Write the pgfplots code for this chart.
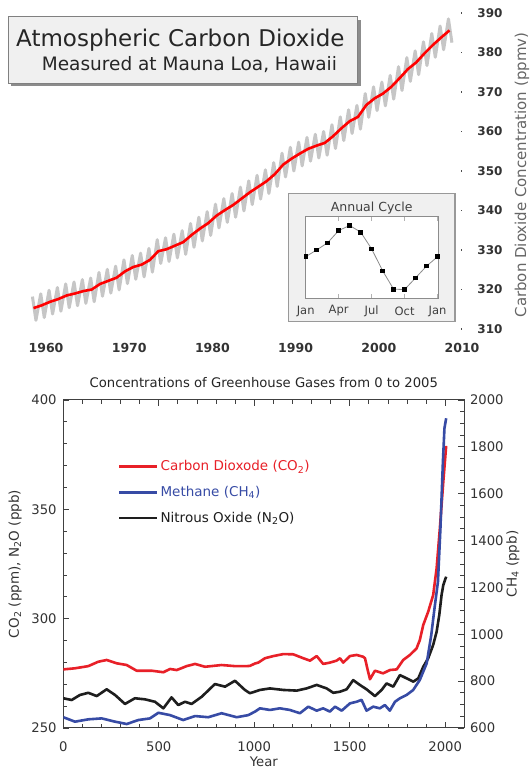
\documentclass[border=0pt]{standalone}
\usepackage{fontspec}
\setmainfont{DejaVu Sans}
\usepackage{pgfplots}
\usepackage{pgfplotstable}
\pgfplotsset{compat=1.18}
\definecolor{co2red}{RGB}{232,32,40}
\definecolor{ch4blue}{RGB}{55,75,165}
\definecolor{n2oblack}{RGB}{30,30,30}
\definecolor{boxgray}{RGB}{240,240,240}

\pgfplotstableread{
x y
1958.37 318.2
1958.79 312.2
1959.37 318.9
1959.79 312.9
1960.37 319.8
1960.79 313.8
1961.37 320.5
1961.79 314.5
1962.37 321.4
1962.79 315.4
1963.37 321.9
1963.79 315.9
1964.37 322.5
1964.79 316.5
1965.37 322.9
1965.79 316.9
1966.37 324.3
1966.79 318.3
1967.37 325.1
1967.79 319.1
1968.37 325.9
1968.79 319.9
1969.37 327.5
1969.79 321.5
1970.37 328.6
1970.79 322.6
1971.37 329.2
1971.79 323.2
1972.37 330.4
1972.79 324.4
1973.37 332.6
1973.79 326.6
1974.37 333.1
1974.79 327.1
1975.37 334.0
1975.79 328.0
1976.37 334.9
1976.79 328.9
1977.37 336.7
1977.79 330.7
1978.37 338.3
1978.79 332.3
1979.37 339.7
1979.79 333.7
1980.37 341.6
1980.79 335.6
1981.37 343.0
1981.79 337.0
1982.37 344.3
1982.79 338.3
1983.37 345.9
1983.79 339.9
1984.37 347.5
1984.79 341.5
1985.37 348.9
1985.79 342.9
1986.37 350.3
1986.79 344.3
1987.37 352.1
1987.79 346.1
1988.37 354.5
1988.79 348.5
1989.37 356.0
1989.79 350.0
1990.37 357.3
1990.79 351.3
1991.37 358.5
1991.79 352.5
1992.37 359.3
1992.79 353.3
1993.37 360.0
1993.79 354.0
1994.37 361.7
1994.79 355.7
1995.37 363.7
1995.79 357.7
1996.37 365.5
1996.79 359.5
1997.37 366.6
1997.79 360.6
1998.37 369.6
1998.79 363.6
1999.37 371.3
1999.79 365.3
2000.37 372.5
2000.79 366.5
2001.37 374.2
2001.79 368.2
2002.37 376.4
2002.79 370.4
2003.37 378.7
2003.79 372.7
2004.37 380.4
2004.79 374.4
2005.37 382.7
2005.79 376.7
2006.37 384.8
2006.79 378.8
2007.37 386.7
2007.79 380.7
2008.37 388.5
2008.79 382.5
}\monthly

\pgfplotstableread{
x y
1958.5 315.3
1959.5 316.0
1960.5 316.9
1961.5 317.6
1962.5 318.5
1963.5 319.0
1964.5 319.6
1965.5 320.0
1966.5 321.4
1967.5 322.2
1968.5 323.0
1969.5 324.6
1970.5 325.7
1971.5 326.3
1972.5 327.5
1973.5 329.7
1974.5 330.2
1975.5 331.1
1976.5 332.0
1977.5 333.8
1978.5 335.4
1979.5 336.8
1980.5 338.7
1981.5 340.1
1982.5 341.4
1983.5 343.0
1984.5 344.6
1985.5 346.0
1986.5 347.4
1987.5 349.2
1988.5 351.6
1989.5 353.1
1990.5 354.4
1991.5 355.6
1992.5 356.4
1993.5 357.1
1994.5 358.8
1995.5 360.8
1996.5 362.6
1997.5 363.7
1998.5 366.7
1999.5 368.4
2000.5 369.6
2001.5 371.3
2002.5 373.5
2003.5 375.8
2004.5 377.5
2005.5 379.8
2006.5 381.9
2007.5 383.8
2008.5 385.6
}\annual

\pgfplotstableread{
x y
0 276.8
61 277.3
131 278.3
183 280.3
227 281.1
279 279.6
332 278.8
384 276.2
463 276.2
524 275.5
559 277.0
594 276.5
646 278.3
690 279.3
742 278.0
829 278.8
899 278.3
960 278.3
977 278.4
1004 279.5
1021 279.9
1056 281.9
1100 282.9
1152 283.8
1204 283.7
1257 281.9
1292 280.8
1327 282.9
1361 279.3
1396 279.9
1431 280.8
1449 281.9
1466 279.9
1501 282.9
1536 283.4
1570 282.6
1580 281.9
1592 277.3
1606 272.3
1632 276.2
1675 275.0
1710 276.5
1746 276.8
1780 281.1
1815 283.4
1850 286.4
1867 290.2
1885 297.1
1911 303.2
1937 310.8
1955 323.0
1972 341.3
1990 362.6
2005 379.0
}\cotwo

\pgfplotstableread{
x y
0 263.6
44 262.8
87 265.1
131 266.1
175 264.6
227 267.7
271 265.1
323 261.0
375 263.6
428 263.1
480 262.0
524 259.0
567 264.0
602 260.5
637 262.0
672 261.0
725 264.3
794 270.1
847 268.9
899 271.6
951 267.4
977 265.9
1030 267.4
1082 268.1
1152 267.4
1222 267.1
1274 268.1
1327 269.7
1379 268.1
1414 266.1
1449 266.6
1484 267.7
1518 271.9
1553 269.7
1588 267.7
1632 264.6
1667 267.4
1693 270.4
1728 268.9
1763 274.2
1798 272.7
1833 271.2
1859 272.7
1885 278.0
1911 281.9
1937 288.0
1955 294.0
1969 301.7
1981 310.8
1990 315.4
2005 319.2
}\ntwoo

\pgfplotstableread{
x y
0 646
61 627
131 637
201 641
271 627
332 617
393 634
454 641
498 665
559 655
628 634
690 651
759 646
829 663
908 646
969 655
1004 670
1030 684
1082 677
1134 684
1187 677
1239 663
1283 691
1327 674
1361 684
1396 670
1423 691
1458 674
1501 705
1536 712
1562 720
1588 674
1623 691
1658 684
1684 698
1710 674
1737 712
1763 727
1798 741
1832 762
1867 805
1903 876
1927 997
1944 1111
1962 1224
1975 1452
1988 1737
1996 1879
2005 1922
}\chfour

\begin{document}
\begin{tikzpicture}[x=1pt,y=1pt]
\useasboundingbox (0,0) rectangle (531,769);
\fill[white] (0,0) rectangle (531,769);

% ---------------- top panel: Mauna Loa ----------------
\begin{axis}[
  at={(4.4pt,440pt)}, anchor=south west, scale only axis,
  width=457.6pt, height=316pt,
  xmin=1955, xmax=2010, ymin=310, ymax=390,
  axis line style={draw=none},
  xtick={1960,1970,...,2010},
  ytick={310,320,...,390},
  ytick pos=right, yticklabel pos=right,
  xtick pos=bottom,
  xtick style={draw=none},
  ytick style={line width=1.3pt, black!70},
  major tick length=1.3pt,
  /pgf/number format/1000 sep={},
  /pgf/number format/assume math mode=true,
  xticklabel style={anchor=center, yshift=-19pt, font=\fontsize{12.5}{14}\selectfont\bfseries, text=black!80},
  yticklabel style={anchor=center, xshift=28pt, font=\fontsize{12}{14}\selectfont\bfseries, text=black!80},
]
\addplot[gray!45, line width=3pt, line join=round] table[x=x,y=y] {\monthly};
\addplot[red, line width=2.6pt, line join=round] table[x=x,y=y] {\annual};
\end{axis}

% right label
\node[rotate=90, anchor=south, inner sep=0pt, font=\fontsize{15}{18}\selectfont, text=black!60] at (529.5,594) {Carbon Dioxide Concentration (ppmv)};

% title box
\fill[black!45] (11.3,682.7) rectangle (360.7,749.3);
\filldraw[fill=boxgray, draw=black!50, line width=1pt] (8.3,685.7) rectangle (357.7,752.3);
\node[anchor=base west, inner sep=0pt, font=\fontsize{23}{26}\selectfont, text=black!85] at (16,722.3) {Atmospheric Carbon Dioxide};
\node[anchor=base west, inner sep=0pt, font=\fontsize{18.5}{22}\selectfont, text=black!85] at (41.7,698.3) {Measured at Mauna Loa, Hawaii};

% inset
\filldraw[fill=black!6, draw=black!40, line width=1.5pt] (288.3,447.3) rectangle (455,575.7);
\node[font=\fontsize{12.5}{14}\selectfont, text=black!75] at (371.7,561.3) {Annual Cycle};
\begin{axis}[
  at={(305.7pt,470.7pt)}, anchor=south west, scale only axis,
  width=133pt, height=81.6pt,
  xmin=0, xmax=12.1, ymin=-4.5, ymax=4.5,
  axis background/.style={fill=white},
  axis line style={black!45, line width=0.8pt},
  xtick={0,3,6,9,12}, xticklabels={Jan,Apr,Jul,Oct,Jan},
  ytick=\empty,
  xtick pos=both, xticklabel pos=bottom,
  tick style={black!30, line width=0.8pt},
  major tick length=4pt,
  xticklabel style={anchor=center, yshift=-12.7pt, font=\fontsize{11.5}{13}\selectfont, text=black!75},
]
\addplot[black!45, line width=0.8pt, mark=square*, mark size=1.8pt, mark options={black, solid}] coordinates {
(0,0.09) (1,0.83) (2,1.63) (3,2.97) (4,3.53) (5,2.8) (6,0.94) (7,-1.47) (8,-3.5) (9,-3.53) (10,-2.24) (11,-0.94) (12,0.09)};
\end{axis}

% ---------------- bottom panel ----------------
\begin{axis}[
  at={(63.3pt,41pt)}, anchor=south west, scale only axis,
  width=401pt, height=328pt,
  xmin=0, xmax=2100, ymin=250, ymax=400,
  xtick={0,500,...,2000}, minor x tick num=4,
  ytick={250,300,350,400}, minor y tick num=4,
  xtick pos=both, xticklabel pos=bottom,
  ytick pos=left,
  tick align=inside,
  major tick length=6pt, minor tick length=4pt,
  tick style={black!75, line width=0.8pt},
  axis line style={black!75, line width=1pt},
  /pgf/number format/1000 sep={},
  /pgf/number format/assume math mode=true,
  xticklabel style={anchor=center, yshift=-18.7pt, font=\fontsize{13.2}{15}\selectfont, text=black!80},
  yticklabel style={anchor=east, inner sep=0pt, xshift=-6.5pt, font=\fontsize{13.2}{15}\selectfont, text=black!80},
  title={Concentrations of Greenhouse Gases from 0 to 2005},
  title style={at={(axis description cs:0.5,1)}, anchor=center, yshift=11.7pt, font=\fontsize{13.2}{15}\selectfont, text=black!85},
  xlabel={Year},
  xlabel style={at={(axis description cs:0.5,-0.1027)}, anchor=center, font=\fontsize{13.2}{15}\selectfont, text=black!80},
  ylabel={CO\textsubscript{2} (ppm), N\textsubscript{2}O (ppb)},
  ylabel style={at={(axis description cs:-0.12,0.5)}, anchor=center, font=\fontsize{13.5}{15}\selectfont, text=black!80},
  legend image code/.code={\draw[#1] (0pt,0pt) -- (38pt,0pt);},
  legend cell align=left,
  legend style={at={(axis description cs:0.1364,0.8213)}, anchor=north west, draw=none, fill=none, inner sep=0pt, outer sep=0pt, row sep=10pt, font=\fontsize{13.5}{16}\selectfont, /tikz/every even column/.append style={column sep=7pt}},
]
\addplot[co2red, line width=2.6pt, line join=round] table[x=x,y=y] {\cotwo};
\addlegendentry{\textcolor{co2red}{Carbon Dioxode (CO\textsubscript{2})}}
\addlegendimage{ch4blue, line width=2.6pt}
\addlegendentry{\textcolor{ch4blue}{Methane (CH\textsubscript{4})}}
\addplot[n2oblack, line width=2.6pt, line join=round] table[x=x,y=y] {\ntwoo};
\addlegendentry{\textcolor{n2oblack}{Nitrous Oxide (N\textsubscript{2}O)}}
\end{axis}

\begin{axis}[
  at={(63.3pt,41pt)}, anchor=south west, scale only axis,
  width=401pt, height=328pt,
  xmin=0, xmax=2100, ymin=600, ymax=2000,
  axis x line=none, axis y line*=right,
  ytick={600,800,...,2000}, minor y tick num=3,
  tick align=inside,
  major tick length=6pt, minor tick length=4pt,
  tick style={black!75, line width=0.8pt},
  axis line style={black!75, line width=1pt},
  /pgf/number format/1000 sep={},
  /pgf/number format/assume math mode=true,
  yticklabel style={anchor=west, inner sep=0pt, xshift=5.5pt, font=\fontsize{13.2}{15}\selectfont, text=black!80},
  ylabel={CH\textsubscript{4} (ppb)},
  ylabel style={at={(axis description cs:1.121,0.5)}, anchor=center, rotate=0, font=\fontsize{13.5}{15}\selectfont, text=black!80},
]
\addplot[ch4blue, line width=2.6pt, line join=round] table[x=x,y=y] {\chfour};
\end{axis}
\end{tikzpicture}
\end{document}
